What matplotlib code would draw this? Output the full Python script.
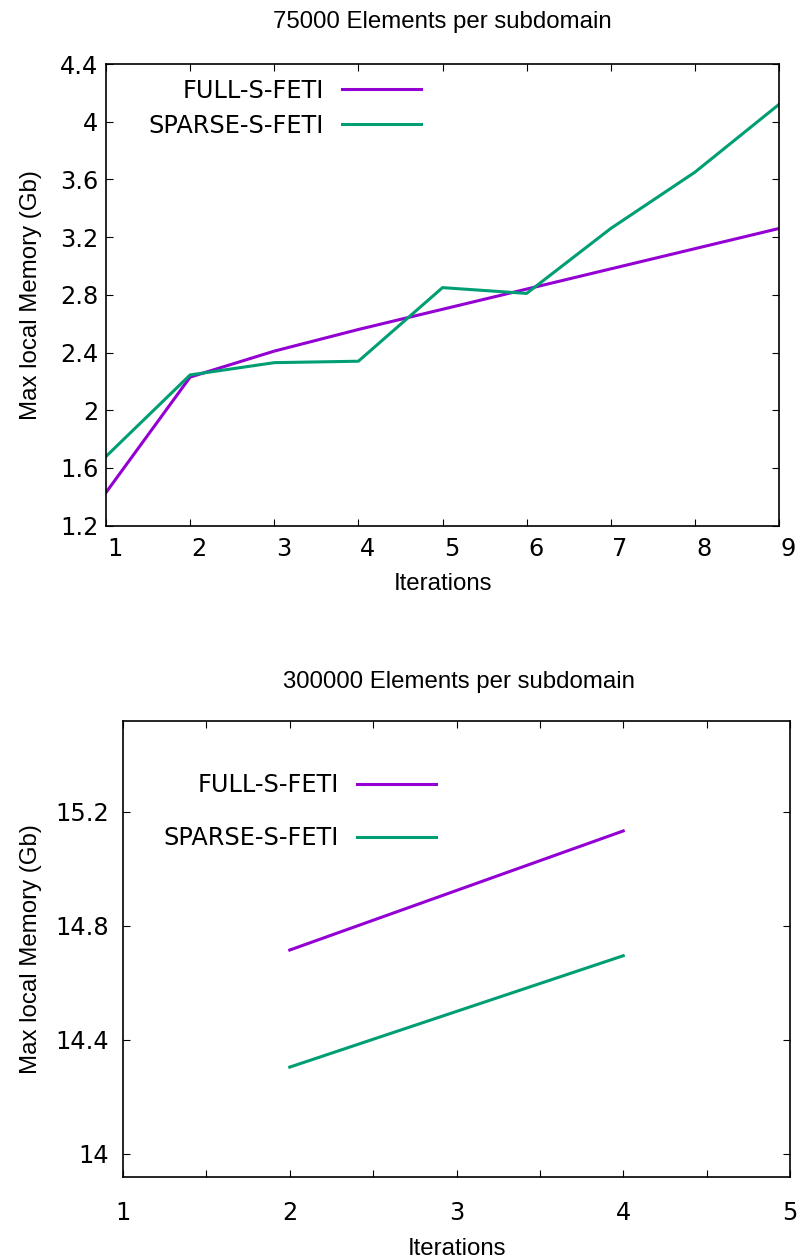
import matplotlib.pyplot as plt
import matplotlib.transforms as mtransforms
import numpy as np

# data
iters_a = [1, 2, 3, 4, 5, 6, 7, 8, 9]
full_a = [1.43, 2.23, 2.41, 2.56, 2.70, 2.84, 2.98, 3.12, 3.26]
sparse_a = [1.68, 2.245, 2.33, 2.34, 2.85, 2.81, 3.26, 3.65, 4.12]

iters_b = [2, 4]
full_b = [14.715, 15.133]
sparse_b = [14.304, 14.695]

labels = ['FULL-S-FETI', 'SPARSE-S-FETI']
colors = ['#9400D3', '#009E73']

W, H = 799, 1260
tick_font = 'DejaVu Sans'
label_font = 'Liberation Sans'
fs = 17.3

fig = plt.figure(figsize=(W / 100, H / 100), dpi=100)


def px_axes(l, t, r, b):
    return fig.add_axes([l / W, (H - b) / H, (r - l) / W, (b - t) / H])


def style(ax):
    for s in ax.spines.values():
        s.set_linewidth(1.2)
    ax.tick_params(direction='in', length=4.8, width=0.8, top=True, right=True,
                   labelsize=fs)
    for t in ax.get_xticklabels() + ax.get_yticklabels():
        t.set_fontfamily(tick_font)


def labels_for(ax, title, tx, ty, xy, yx):
    ax.set_title(title, fontsize=fs, family=label_font, x=tx, y=ty,
                 va='center', pad=0)
    ax.set_xlabel('Iterations', fontsize=fs, family=label_font, va='center')
    ax.set_ylabel('Max local Memory (Gb)', fontsize=fs, family=label_font,
                  va='center')
    ax.xaxis.set_label_coords(0.5, xy)
    ax.yaxis.set_label_coords(yx, 0.5)


# ---- top panel ----
ax1 = px_axes(106, 64, 779, 525.7)
ax1.plot(iters_a, full_a, color=colors[0], lw=2.2, label=labels[0])
ax1.plot(iters_a, sparse_a, color=colors[1], lw=2.2, label=labels[1])
ax1.set_xlim(1, 9)
ax1.set_ylim(1.2, 4.4)
ax1.set_xticks(np.arange(1, 10, 1))
ax1.set_yticks(np.arange(1.2, 4.41, 0.4))
ax1.set_yticklabels(['1.2', '1.6', '2', '2.4', '2.8', '3.2', '3.6', '4', '4.4'])
style(ax1)
ax1.tick_params(axis='x', pad=8)
ax1.tick_params(axis='y', pad=5.5)
shift = mtransforms.ScaledTranslation(9 / 100, 0, fig.dpi_scale_trans)
for t in ax1.get_xticklabels():
    t.set_transform(t.get_transform() + shift)
labels_for(ax1, '75000 Elements per subdomain', 0.5, 1.091, -0.126, -0.112)
ax1.legend(loc='upper right', bbox_to_anchor=(0.468, 0.968), frameon=False,
           markerfirst=False, prop={'family': tick_font, 'size': fs},
           handlelength=3.3, handletextpad=0.75, borderpad=0,
           borderaxespad=0, labelspacing=0.46)

# ---- bottom panel ----
ax2 = px_axes(123, 720.7, 790, 1176.5)
ax2.plot(iters_b, full_b, color=colors[0], lw=2.2, label=labels[0])
ax2.plot(iters_b, sparse_b, color=colors[1], lw=2.2, label=labels[1])
ax2.set_xlim(1, 5)
ax2.set_ylim(13.92, 15.52)
ax2.set_xticks(np.arange(1, 5.01, 0.5))
ax2.set_xticklabels(['1', '', '2', '', '3', '', '4', '', '5'])
ax2.set_yticks([14.0, 14.4, 14.8, 15.2])
ax2.set_yticklabels(['14', '14.4', '14.8', '15.2'])
style(ax2)
ax2.tick_params(axis='x', pad=17.5)
ax2.tick_params(axis='y', pad=10)
labels_for(ax2, '300000 Elements per subdomain', 0.503, 1.085, -0.158, -0.138)
ax2.legend(loc='upper right', bbox_to_anchor=(0.469, 0.885), frameon=False,
           markerfirst=False, prop={'family': tick_font, 'size': fs},
           handlelength=3.3, handletextpad=0.75, borderpad=0,
           borderaxespad=0, labelspacing=1.2)

fig.savefig('out.png', dpi=100)
